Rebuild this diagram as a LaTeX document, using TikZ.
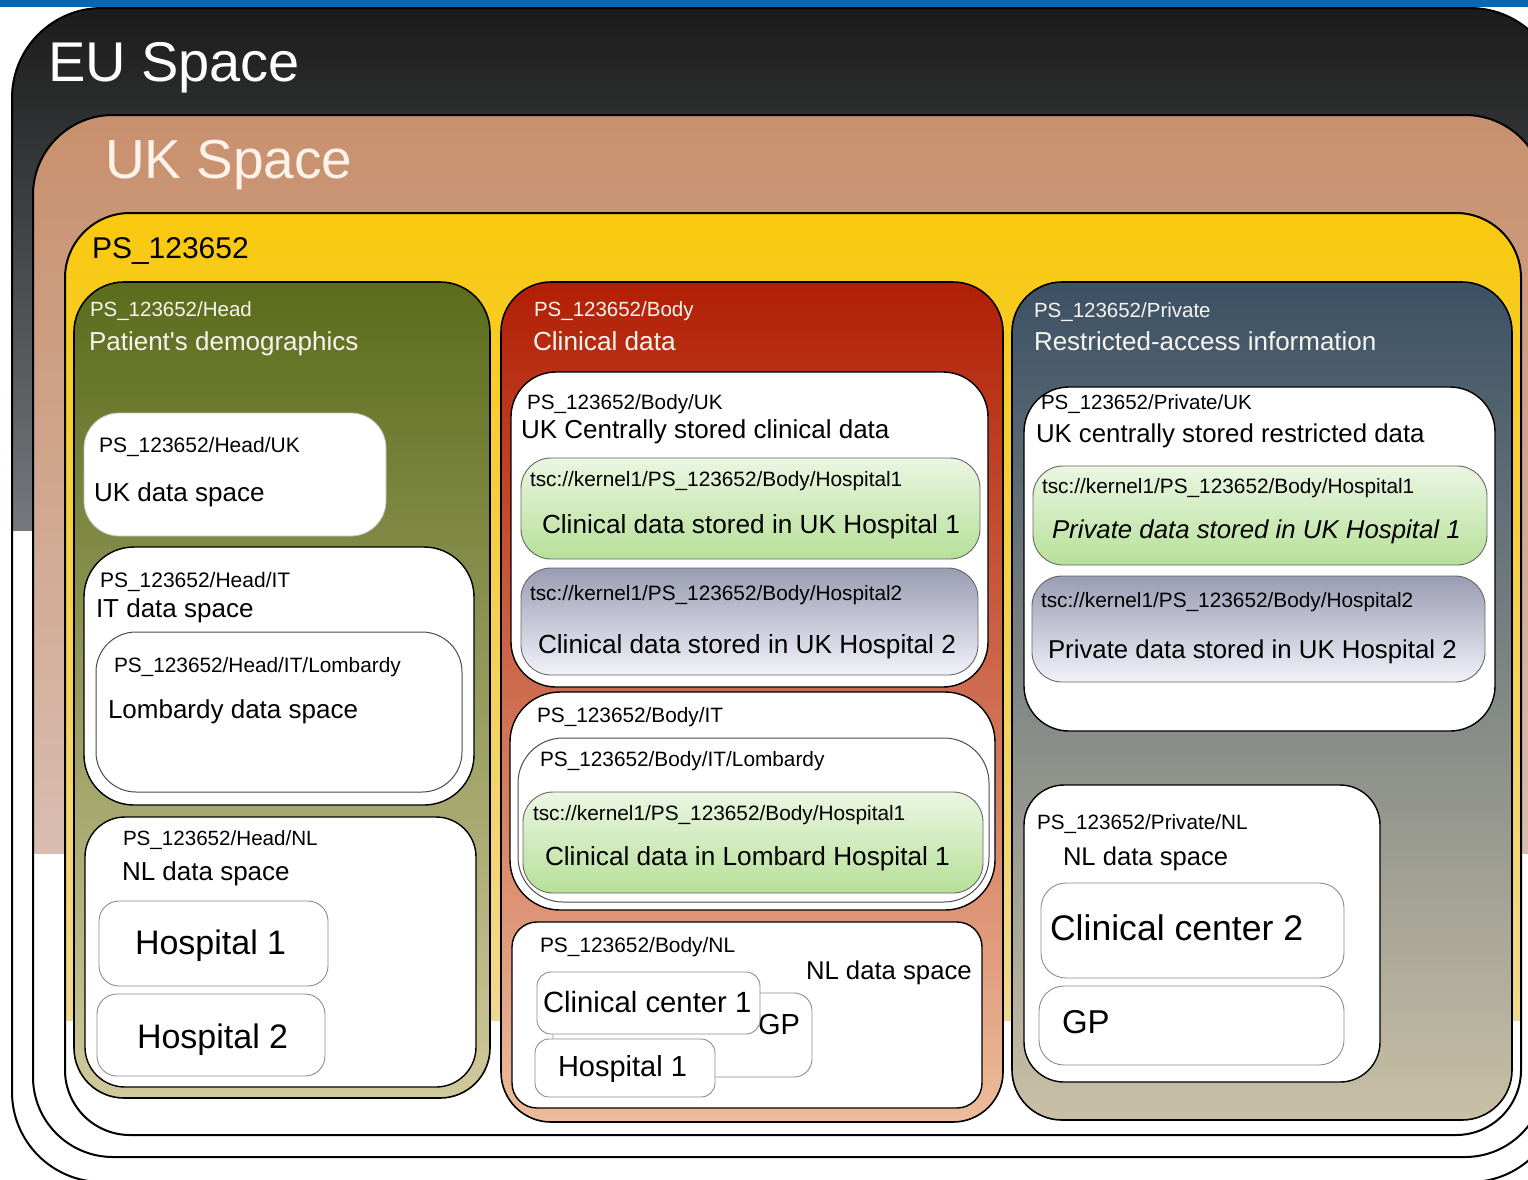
\documentclass[tikz,border=0pt]{standalone}
\usepackage{fontspec}
\setmainfont{Liberation Sans}
\newcommand\myfs[1]{\fontsize{#1}{#1}\selectfont}
\definecolor{topbar}{HTML}{0767B3}
\definecolor{eutop}{HTML}{1B1B1B}
\definecolor{eumid}{HTML}{2E3033}
\definecolor{eubot}{HTML}{75797D}
\definecolor{uktop}{HTML}{C8906D}
\definecolor{ukbot}{HTML}{D8BDB0}
\definecolor{pstop}{HTML}{F9C90E}
\definecolor{psmid}{HTML}{F2C630}
\definecolor{psbot}{HTML}{F2D890}
\definecolor{headtop}{HTML}{5B6C1C}
\definecolor{headmid}{HTML}{858536}
\definecolor{headbot}{HTML}{D0C99C}
\definecolor{bodytop}{HTML}{B21F05}
\definecolor{bodymid}{HTML}{D2652F}
\definecolor{bodybot}{HTML}{ECBC9C}
\definecolor{privtop}{HTML}{3C5165}
\definecolor{privmid}{HTML}{6F705E}
\definecolor{privbot}{HTML}{C9C0A6}
\definecolor{greentop}{HTML}{EBF6E2}
\definecolor{greenbot}{HTML}{B6E098}
\definecolor{slatetop}{HTML}{9A9CB2}
\definecolor{slatebot}{HTML}{F2F2FA}
\definecolor{hdrwhite}{HTML}{F8F4EE}
\definecolor{ukwhite}{HTML}{FDF3EA}
\begin{document}
\begin{tikzpicture}[x=1pt,y=-1pt,
  txt/.style={anchor=base west, inner sep=0pt, outer sep=0pt, text=black},
  wtxt/.style={txt, text=hdrwhite},
  bigline/.style={draw=black, line width=2pt},
  colline/.style={draw=black, line width=1.6pt},
  wbox/.style={fill=white, draw=black, line width=1.4pt},
  ibox/.style={fill=white, draw=black!45, line width=0.9pt},
  lbox/.style={fill=white, draw=black!70, line width=1pt},
  gbox/.style={draw=black!60, line width=0.9pt, top color=greentop, bottom color=greenbot},
  sbox/.style={draw=black!60, line width=0.9pt, top color=slatetop, bottom color=slatebot},
]
\useasboundingbox (0,0) rectangle (1528,1179);
\clip (0,0) rectangle (1528,1179);
\fill[white] (0,0) rectangle (1528,1179);
\fill[topbar] (0,0) rectangle (1528,7);

% EU space
\begin{scope}
  \clip[rounded corners=90pt] (12,8) rectangle (1560,1182);
  \shade[top color=eutop, middle color=eumid, bottom color=eubot] (0,8) rectangle (1560,530);
\end{scope}
\draw[bigline, rounded corners=90pt] (12,8) rectangle (1560,1182);

% UK space
\begin{scope}
  \clip[rounded corners=80pt] (33,115) rectangle (1545,1157);
  \shade[top color=uktop, bottom color=ukbot] (0,115) rectangle (1560,853);
\end{scope}
\draw[bigline, rounded corners=80pt] (33,115) rectangle (1545,1157);

% PS_123652
\begin{scope}
  \clip[rounded corners=65pt] (65,213) rectangle (1521,1135);
  \shade[top color=pstop, middle color=psmid, bottom color=psbot] (0,213) rectangle (1560,1020);
\end{scope}
\draw[bigline, rounded corners=65pt] (65,213) rectangle (1521,1135);

% columns
\draw[colline, rounded corners=50pt, top color=headtop, middle color=headmid, bottom color=headbot] (74,282) rectangle (490,1098);
\draw[colline, rounded corners=50pt, top color=bodytop, middle color=bodymid, bottom color=bodybot] (501,282) rectangle (1003,1122);
\draw[colline, rounded corners=50pt, top color=privtop, middle color=privmid, bottom color=privbot] (1012,282) rectangle (1512,1120);

% titles
\node[txt, text=white] (eu) at (48,81) {\myfs{56}EU Space};
\node[txt, text=ukwhite] (uk) at (105,178) {\myfs{55}UK Space};
\node[txt] (ps) at (92,258) {\myfs{30}PS\_123652};

% ===== Head column =====
\node[wtxt] (hdA) at (90,316) {\myfs{20.5}PS\_123652/Head};
\node[wtxt] (hdB) at (89,350) {\myfs{26}Patient\textquotesingle s demographics};

\draw[fill=white, draw=black!25, line width=0.8pt, rounded corners=35pt] (84,413) rectangle (386,536);
\node[txt] (huA) at (99,452) {\myfs{21}PS\_123652/Head/UK};
\node[txt] (huB) at (94,501) {\myfs{26}UK data space};

\draw[wbox, rounded corners=50pt] (84,547) rectangle (474,805);
\node[txt] (hiA) at (100,587) {\myfs{21}PS\_123652/Head/IT};
\node[txt] (hiB) at (96,617) {\myfs{26}IT data space};
\draw[lbox, rounded corners=40pt] (96,632) rectangle (462,792);
\node[txt] (hlA) at (114,672) {\myfs{20.8}PS\_123652/Head/IT/Lombardy};
\node[txt] (hlB) at (108,718) {\myfs{26}Lombardy data space};

\draw[wbox, rounded corners=40pt] (85,817) rectangle (476,1087);
\node[txt] (hnA) at (123,845) {\myfs{20.6}PS\_123652/Head/NL};
\node[txt] (hnB) at (122,880) {\myfs{26}NL data space};
\draw[ibox, rounded corners=20pt] (99,901) rectangle (328,986);
\node[txt] (hh1) at (135,954) {\myfs{34}Hospital 1};
\draw[ibox, rounded corners=20pt] (97,994) rectangle (325,1076);
\node[txt] (hh2) at (137,1048) {\myfs{34}Hospital 2};

% ===== Body column =====
\node[wtxt] (bdA) at (534,316) {\myfs{20.5}PS\_123652/Body};
\node[wtxt] (bdB) at (533,350) {\myfs{26.2}Clinical data};

\draw[wbox, rounded corners=45pt] (511,372) rectangle (988,687);
\node[txt] (buA) at (527,409) {\myfs{20.7}PS\_123652/Body/UK};
\node[txt] (buB) at (521,438) {\myfs{26}UK Centrally stored clinical data};
\draw[gbox, rounded corners=30pt] (521,458) rectangle (980,559);
\node[txt] (bg1A) at (530,486) {\myfs{20.8}tsc://kernel1/PS\_123652/Body/Hospital1};
\node[txt] (bg1B) at (542,533) {\myfs{26.2}Clinical data stored in UK Hospital 1};
\draw[sbox, rounded corners=30pt] (521,568) rectangle (978,675);
\node[txt] (bs2A) at (530,600) {\myfs{20.8}tsc://kernel1/PS\_123652/Body/Hospital2};
\node[txt] (bs2B) at (538,653) {\myfs{26.2}Clinical data stored in UK Hospital 2};

\draw[wbox, rounded corners=50pt] (510,692) rectangle (995,910);
\node[txt] (biA) at (537,722) {\myfs{20.8}PS\_123652/Body/IT};
\draw[lbox, rounded corners=45pt] (518,738) rectangle (989,902);
\node[txt] (blA) at (540,766) {\myfs{20.8}PS\_123652/Body/IT/Lombardy};
\draw[gbox, rounded corners=30pt] (523,792) rectangle (983,893);
\node[txt] (bgLA) at (533,820) {\myfs{20.8}tsc://kernel1/PS\_123652/Body/Hospital1};
\node[txt] (bgLB) at (545,865) {\myfs{26.2}Clinical data in Lombard Hospital 1};

\draw[wbox, rounded corners=25pt] (512,922) rectangle (982,1108);
\node[txt] (bnA) at (540,952) {\myfs{20.9}PS\_123652/Body/NL};
\node[txt] (bnB) at (806,979) {\myfs{25.7}NL data space};
\draw[ibox, rounded corners=18pt] (553,993) rectangle (812,1077);
\node[txt] (bgp) at (758,1034) {\myfs{29}GP};
\draw[ibox, rounded corners=14pt] (537,972) rectangle (760,1034);
\node[txt] (bcc1) at (543,1012) {\myfs{29.3}Clinical center 1};
\draw[ibox, rounded corners=14pt] (535,1039) rectangle (715,1097);
\node[txt] (bh1) at (558,1076) {\myfs{29}Hospital 1};

% ===== Private column =====
\node[wtxt] (pvA) at (1034,317) {\myfs{20.5}PS\_123652/Private};
\node[wtxt] (pvB) at (1034,350) {\myfs{26}Restricted-access information};

\draw[wbox, rounded corners=45pt] (1024,387) rectangle (1495,731);
\node[txt] (puA) at (1041,409) {\myfs{20.5}PS\_123652/Private/UK};
\node[txt] (puB) at (1036,442) {\myfs{25.8}UK centrally stored restricted data};
\draw[gbox, rounded corners=30pt] (1033,466) rectangle (1487,565);
\node[txt] (pg1A) at (1042,493) {\myfs{20.8}tsc://kernel1/PS\_123652/Body/Hospital1};
\node[txt] (pg1B) at (1052,538) {\myfs{25.8}\itshape Private data stored in UK Hospital 1};
\draw[sbox, rounded corners=30pt] (1032,576) rectangle (1485,682);
\node[txt] (ps2A) at (1041,607) {\myfs{20.8}tsc://kernel1/PS\_123652/Body/Hospital2};
\node[txt] (ps2B) at (1048,658) {\myfs{25.8}Private data stored in UK Hospital 2};

\draw[wbox, rounded corners=40pt] (1024,785) rectangle (1380,1082);
\node[txt] (pnA) at (1037,829) {\myfs{20.7}PS\_123652/Private/NL};
\node[txt] (pnB) at (1063,865) {\myfs{25.6}NL data space};
\draw[ibox, rounded corners=25pt] (1041,883) rectangle (1344,978);
\node[txt] (pcc2) at (1050,940) {\myfs{35.6}Clinical center 2};
\draw[ibox, rounded corners=25pt] (1039,986) rectangle (1344,1065);
\node[txt] (pgp) at (1062,1033) {\myfs{33}GP};
\end{tikzpicture}
\end{document}
